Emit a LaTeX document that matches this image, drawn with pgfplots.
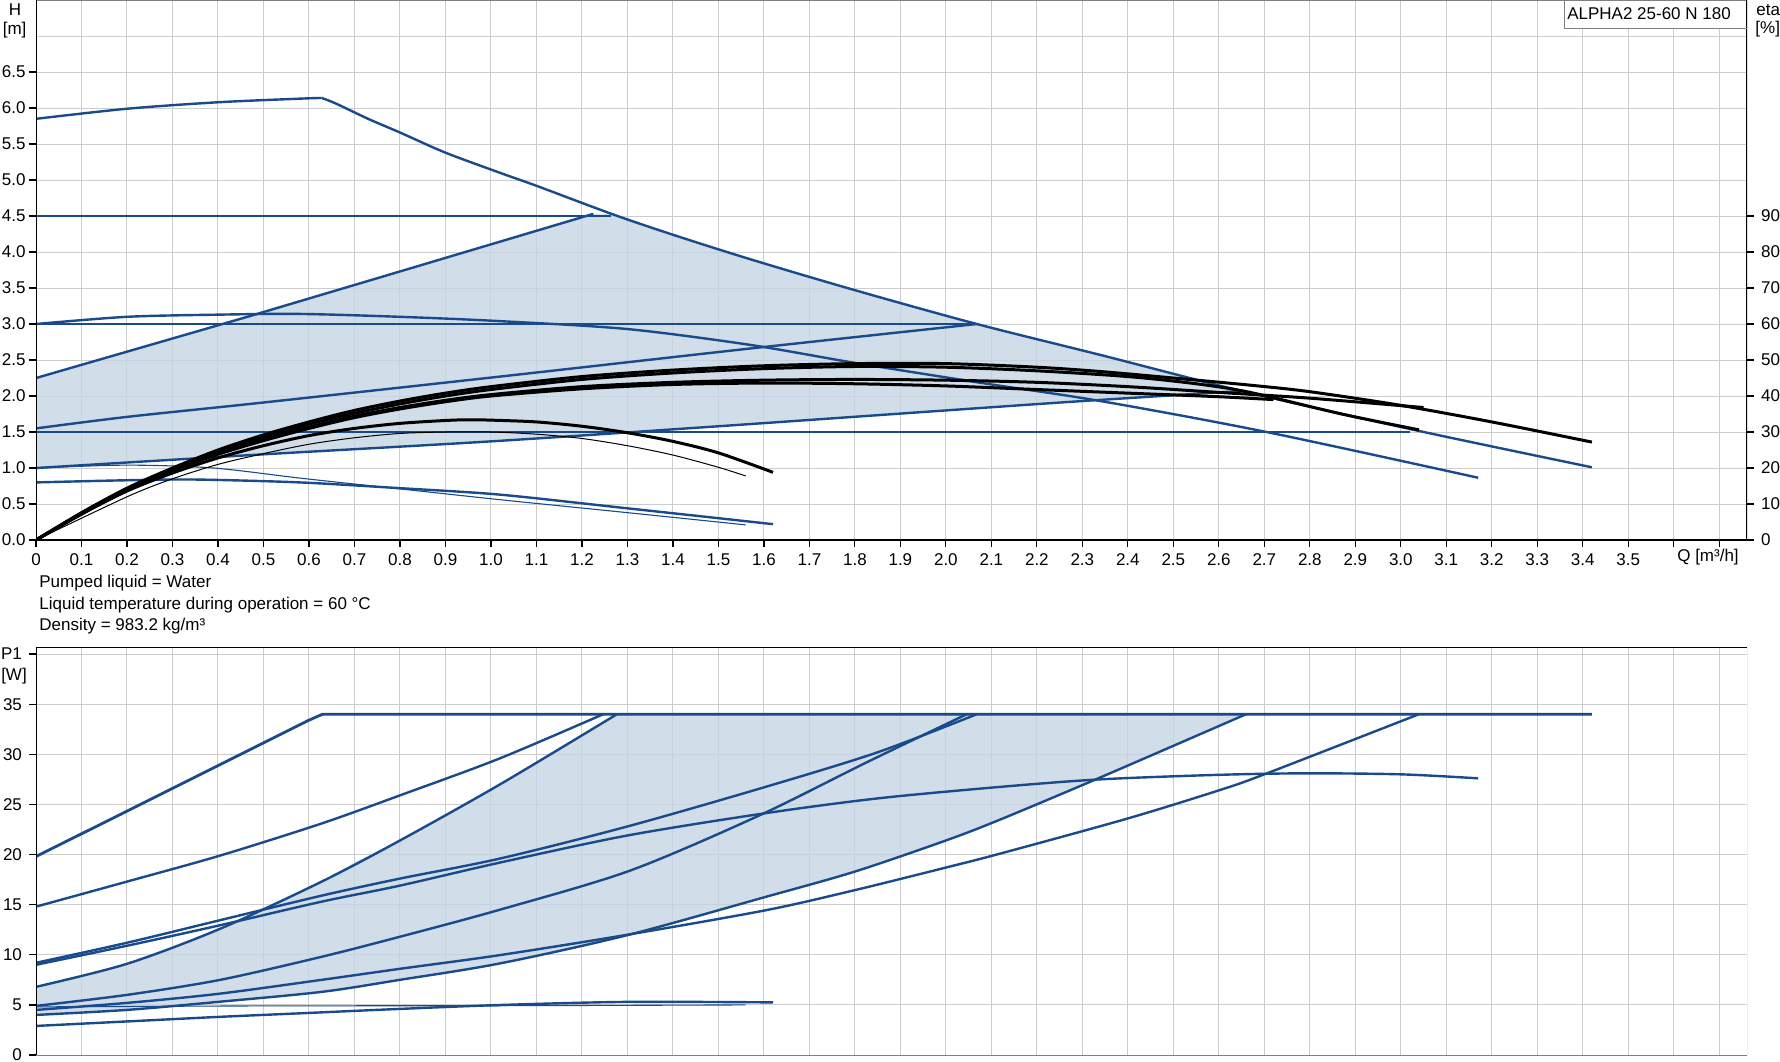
\documentclass[border=0pt]{standalone}
\usepackage{fontspec}
\setmainfont{Liberation Sans}
\usepackage{pgfplots}
\pgfplotsset{compat=1.18}
\definecolor{gbl}{RGB}{24,74,140}
\definecolor{shade}{RGB}{197,212,226}
\definecolor{gridc}{RGB}{205,205,205}
\newcommand{\fs}{\fontsize{8.5}{10}\selectfont}
\begin{document}
\begin{tikzpicture}[font=\fs]
\useasboundingbox (0,0) rectangle (890pt,-530.5pt);
\pgfplotsset{
  base/.style={
    scale only axis, width=855.5pt, xmin=0, xmax=3.761,
    axis line style={draw=none},
    tick align=outside, major tick length=3.5pt,
    tick style={black, line width=0.6pt},
    grid style={gridc, line width=0.5pt},
    ticklabel style={font=\fs},
    /pgf/number format/assume math mode=true,
    xtick={0,0.1,0.2,0.3,0.4,0.5,0.6,0.7,0.8,0.9,1.0,1.1,1.2,1.3,1.4,1.5,1.6,1.7,1.8,1.9,2.0,2.1,2.2,2.3,2.4,2.5,2.6,2.7,2.8,2.9,3.0,3.1,3.2,3.3,3.4,3.5,3.6,3.7},
  },
  bl/.style={gbl, line width=1.2pt, line join=round},
  bls/.style={gbl, line width=1.2pt, line join=round, smooth, tension=0.5},
  blt/.style={gbl, line width=0.55pt, line join=round, smooth, tension=0.5},
  bk/.style={black, line width=1.5pt, line join=round, smooth, tension=0.5},
  bkt/.style={black, line width=0.5pt, line join=round, smooth, tension=0.5},
}
% ---------------- top: H ----------------
\begin{axis}[base, at={(18pt,-270pt)}, anchor=south west, height=270pt,
  ymin=0, ymax=7.5, grid=major,
  xtick pos=left, ytick pos=left,
  xticklabels={0,0.1,0.2,0.3,0.4,0.5,0.6,0.7,0.8,0.9,1.0,1.1,1.2,1.3,1.4,1.5,1.6,1.7,1.8,1.9,2.0,2.1,2.2,2.3,2.4,2.5,2.6,2.7,2.8,2.9,3.0,3.1,3.2,3.3,3.4,3.5,{},{}},
  ytick={0,0.5,1,1.5,2,2.5,3,3.5,4,4.5,5,5.5,6,6.5},
  extra y ticks={7}, extra y tick labels={},
  extra y tick style={grid=major, major tick length=0pt},
  yticklabel style={xshift=1.8pt, /pgf/number format/.cd, fixed, fixed zerofill, precision=1},
]
% AUTOADAPT area
\addplot[draw=none, fill=shade, fill opacity=0.8] coordinates {
 (0,1.0) (0.25,1.1) (0.5,1.19) (0.75,1.28) (1.0,1.37) (1.25,1.47) (1.5,1.58) (1.75,1.69) (2.0,1.8) (2.3,1.93) (2.65,2.07)
 (2.5,2.31) (2.34,2.57) (2.2,2.78) (2.068,3.0) (1.9,3.29) (1.8,3.47) (1.68,3.69) (1.57,3.9) (1.4,4.24) (1.265,4.53) (1.225,4.53)
 (0.8,3.73) (0.47,3.11) (0,2.25)} -- cycle;
% max curve
\addplot[bls] coordinates {(0,5.85) (0.2,5.99) (0.4,6.08) (0.58,6.13) (0.628,6.14)};
\addplot[bls] coordinates {(0.628,6.14) (0.66,6.06) (0.73,5.85) (0.8,5.66) (0.9,5.38) (1.02,5.1) (1.1,4.92) (1.265,4.53) (1.4,4.24) (1.57,3.9) (1.8,3.47) (2.068,3.0) (2.34,2.57) (2.65,2.07) (3.0,1.57) (3.2,1.3) (3.42,1.01)};
% constant pressure lines
\addplot[bl] coordinates {(0,4.5) (1.265,4.5)};
\addplot[bl] coordinates {(0,3.0) (2.068,3.0)};
\addplot[gbl, line width=0.8pt] coordinates {(0,1.5) (3.02,1.5)};
% proportional pressure lines
\addplot[bl] coordinates {(0,2.25) (0.47,3.11) (0.8,3.73) (1.225,4.53)};
\addplot[bls] coordinates {(0,1.55) (0.2,1.71) (0.5,1.91) (1.02,2.27) (1.57,2.66) (2.068,3.0)};
\addplot[bls] coordinates {(0,1.0) (0.5,1.19) (1.0,1.37) (1.5,1.58) (2.0,1.8) (2.3,1.93) (2.65,2.07)};
% fixed speed curve
\addplot[bls] coordinates {(0,3.0) (0.2,3.10) (0.4,3.13) (0.58,3.14) (0.8,3.10) (1.02,3.04) (1.3,2.93) (1.57,2.71) (1.8,2.46) (2.08,2.18) (2.34,1.93) (2.705,1.5) (3.17,0.865)};
% min curves
\addplot[bls] coordinates {(0,0.8) (0.2,0.83) (0.35,0.84) (0.58,0.80) (0.8,0.72) (1.02,0.63) (1.3,0.44) (1.49,0.31) (1.62,0.22)};
\addplot[blt] coordinates {(0,1.0) (0.2,1.04) (0.39,1.0) (0.58,0.86) (0.8,0.71) (1.02,0.56) (1.3,0.38) (1.56,0.21)};
\draw[gray, line width=0.5pt] (rel axis cs:0,1) -- (rel axis cs:1,1);
\draw[black, line width=0.8pt] (rel axis cs:0,1) -- (rel axis cs:0,0) -- (rel axis cs:1,0) -- (rel axis cs:1,1);
\end{axis}
% ---------------- top: eta ----------------
\begin{axis}[base, at={(18pt,-270pt)}, anchor=south west, height=270pt,
  ymin=0, ymax=150, xtick=\empty,
  ytick pos=right, yticklabel pos=right,
  ytick={0,10,20,30,40,50,60,70,80,90},
]
\addplot[bk] coordinates {(0,0) (0.1,7.6) (0.2,14.4) (0.3,20) (0.4,25) (0.5,29.2) (0.6,32.8) (0.7,36) (0.8,38.6) (0.9,40.8) (1.0,42.6) (1.2,45.4) (1.4,47.2) (1.6,48.4) (1.8,49) (2.0,49) (2.2,48) (2.34,46.8) (2.5,45) (2.67,43) (2.8,41.2) (3.0,37.4) (3.2,32.8) (3.42,27.2)};
\addplot[bk] coordinates {(0,0) (0.1,7.4) (0.2,14) (0.3,19.6) (0.4,24.4) (0.5,28.6) (0.6,32.2) (0.7,35.2) (0.8,37.8) (0.9,40) (1.0,41.8) (1.2,44.6) (1.4,46.4) (1.6,47.6) (1.8,48.2) (2.0,48) (2.2,47) (2.4,45.4) (2.55,43.4) (2.669,41) (2.87,35) (3.04,30.6)};
\addplot[bk] coordinates {(0,0) (0.1,7.4) (0.2,14) (0.3,19.4) (0.4,24) (0.5,28) (0.6,31.4) (0.7,34.4) (0.8,36.8) (0.9,38.8) (1.0,40.4) (1.2,42.6) (1.4,43.8) (1.6,44.4) (1.8,44.6) (2.0,44.4) (2.2,43.8) (2.4,42.6) (2.6,41) (2.8,39.4) (3.05,36.8)};
\addplot[bk] coordinates {(0,0) (0.1,7.2) (0.2,13.8) (0.3,19.2) (0.4,23.8) (0.5,27.6) (0.6,31) (0.7,34) (0.8,36.4) (0.9,38.4) (1.0,40) (1.2,42) (1.4,43.2) (1.6,43.6) (1.8,43.4) (2.0,42.8) (2.2,41.8) (2.4,40.8) (2.6,39.8) (2.72,39)};
\addplot[bk] coordinates {(0,0) (0.1,7.2) (0.2,13.6) (0.3,18.6) (0.4,22.8) (0.5,26.2) (0.6,29) (0.7,31) (0.8,32.4) (0.9,33.2) (0.95,33.4) (1.0,33.3) (1.1,32.8) (1.2,31.6) (1.3,29.8) (1.4,27.4) (1.5,24.2) (1.62,18.8)};
\addplot[bkt] coordinates {(0,0) (0.2,12) (0.3,17) (0.4,21) (0.5,24) (0.6,26.6) (0.7,28.4) (0.8,29.6) (0.9,30) (1.0,30) (1.1,29.4) (1.2,28.2) (1.3,26.2) (1.4,23.6) (1.5,20.2) (1.56,17.8)};
\end{axis}
% ---------------- bottom: P1 ----------------
\begin{axis}[base, at={(18pt,-527.5pt)}, anchor=south west, height=204pt,
  ymin=0, ymax=40.7, grid=major,
  xticklabels={}, xtick style={draw=none},
  ytick pos=left,
  ytick={0,5,10,15,20,25,30,35,40},
  yticklabels={0,5,10,15,20,25,30,35,P1},
]
\addplot[draw=none, fill=shade, fill opacity=0.8] coordinates {
 (0,4.0) (0.1,4.22) (0.2,4.5) (0.3,4.88) (0.4,5.3) (0.5,5.72) (0.628,6.3) (0.7,6.8) (0.8,7.5) (0.9,8.2) (1.02,9.14) (1.15,10.4) (1.3,11.96) (1.45,13.8) (1.606,15.8) (1.8,18.3) (2.0,21.4) (2.12,23.5) (2.34,27.7) (2.66,34)
 (1.277,34) (1.15,30.4) (1.02,27.0) (0.9,23.8) (0.8,21.4) (0.7,19.2) (0.628,17.3) (0.5,14.6) (0.405,12.6) (0.3,10.7) (0.2,9.1) (0.1,7.9) (0,6.8)} -- cycle;
\addplot[gbl, line width=1.4pt] coordinates {(0,19.8) (0.6,33.4) (0.63,34) (3.42,34)};
\addplot[bls] coordinates {(0,14.8) (0.2,17.3) (0.405,19.9) (0.628,23.1) (0.8,25.9) (1.02,29.6) (1.247,34)};
\addplot[bls] coordinates {(0,6.8) (0.2,9.1) (0.405,12.6) (0.628,17.3) (0.8,21.4) (1.02,27.0) (1.277,34)};
\addplot[bls] coordinates {(0,9.2) (0.2,11.2) (0.4,13.4) (0.628,15.9) (0.8,17.6) (1.02,19.6) (1.3,22.8) (1.6,26.7) (1.85,30.2) (2.068,34)};
\addplot[bls] coordinates {(0,9.0) (0.2,10.9) (0.4,12.9) (0.628,15.3) (0.8,16.9) (1.02,19.2) (1.3,21.9) (1.6,24.1) (1.85,25.6) (2.12,26.75) (2.34,27.5) (2.6,27.95) (2.79,28.1) (3.0,28.0) (3.17,27.6)};
\addplot[bls] coordinates {(0,4.9) (0.2,6.0) (0.405,7.5) (0.628,9.8) (0.8,11.8) (1.02,14.5) (1.306,18.4) (1.59,23.9) (1.826,29.2) (2.046,34)};
\addplot[bls] coordinates {(0,4.5) (0.2,5.2) (0.4,6.1) (0.628,7.5) (0.8,8.6) (1.02,9.97) (1.3,12.0) (1.606,14.46) (1.8,16.45) (2.0,18.7) (2.12,20.1) (2.4,23.6) (2.6,26.4) (2.7,28.0) (3.04,34)};
\addplot[bls] coordinates {(0,4.0) (0.2,4.5) (0.4,5.3) (0.628,6.3) (0.8,7.5) (1.02,9.14) (1.3,11.96) (1.606,15.8) (1.8,18.3) (2.0,21.4) (2.12,23.5) (2.34,27.7) (2.66,34)};
\addplot[bls] coordinates {(0,2.9) (0.2,3.35) (0.4,3.8) (0.6,4.2) (0.8,4.6) (1.02,4.99) (1.3,5.3) (1.62,5.25)};
\addplot[blt] coordinates {(0,4.8) (0.5,4.9) (1.02,4.92) (1.56,5.0)};
\draw[gray, line width=0.5pt] (rel axis cs:0,0) -- (rel axis cs:1,0) -- (rel axis cs:1,1);
\draw[black, line width=0.6pt] (rel axis cs:0,1) -- (rel axis cs:1,1);
\draw[black, line width=0.8pt] (rel axis cs:0,0) -- (rel axis cs:0,1);
\end{axis}
% ---------------- texts ----------------
\node at (7.5pt,-4.6pt) {H};
\node at (7.3pt,-15pt) {[m]};
\node[anchor=west, inner sep=0pt] at (878pt,-5pt) {eta};
\node[anchor=west, inner sep=0pt] at (877.5pt,-14.8pt) {[\%]};
\fill[white] (782pt,-0.3pt) rectangle (873.1pt,-14.2pt);
\draw[gray, line width=0.5pt] (782pt,0pt) |- (873.5pt,-14.2pt);
\node at (824.5pt,-6.8pt) {ALPHA2 25-60 N 180};
\node at (854pt,-278.7pt) {Q [m³/h]};
\node[anchor=west, inner sep=0pt] at (19.5pt,-291.7pt) {Pumped liquid = Water};
\node[anchor=west, inner sep=0pt] at (19.5pt,-302.5pt) {Liquid temperature during operation = 60 °C};
\node[anchor=west, inner sep=0pt] at (19.5pt,-313pt) {Density = 983.2 kg/m³};
\node at (7pt,-338pt) {[W]};
\end{tikzpicture}
\end{document}
